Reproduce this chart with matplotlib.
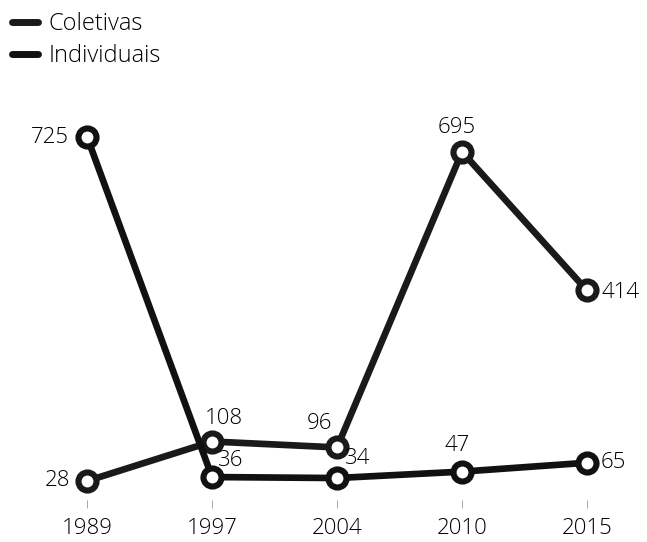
import matplotlib.pyplot as plt

anos = ['1989', '1997', '2004', '2010', '2015']
coletivas = [28, 108, 96, 695, 414]
individuais = [725, 36, 34, 47, 65]

plt.rcParams['font.family'] = ['Open Sans', 'DejaVu Sans']
plt.rcParams['font.weight'] = 'light'

fig = plt.figure(figsize=(6.47, 5.42), dpi=100)
ax = fig.add_axes([0.038, 0.0775, 0.962, 0.738])

x = range(len(anos))
estilo = dict(linewidth=4.8, marker='o', markersize=13, markerfacecolor='white',
              markeredgewidth=4.4, solid_capstyle='round')
ax.plot(x, coletivas, color='#1a1a1a', label='Coletivas', **estilo)
ax.plot(x, individuais, color='#111111', label='Individuais', **estilo)

# posicao de cada rotulo em relacao ao ponto (pixels)
desloc_col = [(-17, 0, 'right', 'center'), (-7, 13, 'left', 'bottom'),
              (-5, 13, 'right', 'bottom'), (-5, 14, 'center', 'bottom'),
              (15, -2, 'left', 'center')]
desloc_ind = [(-18, 0, 'right', 'center'), (6, 6, 'left', 'bottom'),
              (8, 9, 'left', 'bottom'), (-5, 16, 'center', 'bottom'),
              (14, 0, 'left', 'center')]
for serie, desloc in [(coletivas, desloc_col), (individuais, desloc_ind)]:
    for i, v in enumerate(serie):
        dx, dy, ha, va = desloc[i]
        ax.annotate(str(v), (i, v), xytext=(dx, dy), textcoords='offset pixels',
                    ha=ha, va=va, fontsize=16, color='#000000')

ax.set_xlim(-0.5, 4.48)
ax.set_ylim(-10.5, 800)
ax.set_xticks(list(x))
ax.set_xticklabels(anos, fontsize=16, color='#000000')
ax.tick_params(axis='x', length=6, width=0.6, color='#999999', pad=7)
ax.set_yticks([])
for lado in ax.spines.values():
    lado.set_visible(False)

fig.legend(loc='upper left', bbox_to_anchor=(0.0, 1.0), frameon=False,
           handlelength=1.1, handletextpad=0.45, labelspacing=0.35,
           borderaxespad=0.1, prop={'size': 17, 'weight': 'light'})
for linha in fig.legends[0].get_lines():
    linha.set_marker('')
    linha.set_linewidth(5)

fig.savefig('out.png', dpi=100)
